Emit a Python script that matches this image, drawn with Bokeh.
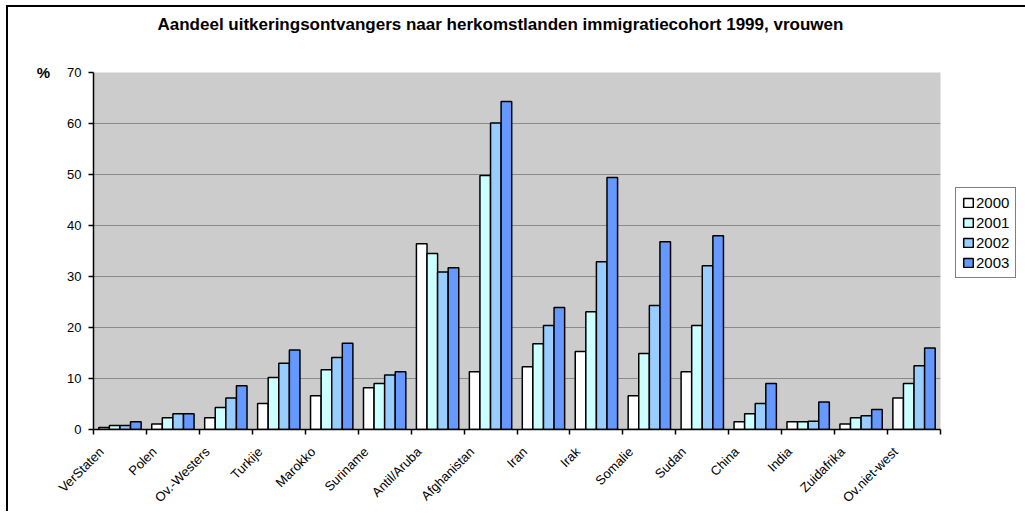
import numpy as np
from bokeh.plotting import figure
from bokeh.layouts import column
from bokeh.models import (ColumnDataSource, FixedTicker, Range1d, Legend,
                          LegendItem, Title)
from bokeh.transform import dodge
from bokeh.embed import file_html
from bokeh.resources import INLINE

# ---------------- data ----------------
title_text = "Aandeel uitkeringsontvangers naar herkomstlanden immigratiecohort 1999, vrouwen"
categories = ["VerStaten", "Polen", "Ov.-Westers", "Turkije", "Marokko", "Suriname",
              "Antil/Aruba", "Afghanistan", "Iran", "Irak", "Somalie", "Sudan",
              "China", "India", "Zuidafrika", "Ov.niet-west"]
years = ["2000", "2001", "2002", "2003"]
v2000 = [0.4, 1.1, 2.3, 5.1, 6.6, 8.2, 36.4, 11.3, 12.3, 15.3, 6.6, 11.3, 1.5, 1.5, 1.1, 6.2]
v2001 = [0.8, 2.3, 4.3, 10.2, 11.7, 9.0, 34.5, 49.8, 16.8, 23.1, 14.9, 20.4, 3.1, 1.5, 2.3, 9.0]
v2002 = [0.8, 3.1, 6.2, 13.0, 14.1, 10.7, 30.9, 60.1, 20.4, 32.9, 24.3, 32.1, 5.1, 1.6, 2.7, 12.5]
v2003 = [1.5, 3.1, 8.6, 15.6, 16.9, 11.3, 31.7, 64.3, 23.9, 49.4, 36.8, 38.0, 9.0, 5.4, 3.9, 16.0]
y_ticks = [0, 10, 20, 30, 40, 50, 60, 70]
y_unit = "%"

# ---------------- styles ----------------
colors = ["#FFFFFF", "#CCFFFF", "#99CCFF", "#6699FF"]
offsets = [-0.3, -0.1, 0.1, 0.3]
label_shift = 0.15
FONT = "Liberation Sans"

n = len(categories)
src = ColumnDataSource(dict(x=[i + 0.5 for i in range(n)],
                            y2000=v2000, y2001=v2001, y2002=v2002, y2003=v2003))

p = figure(frame_width=847, frame_height=357,
           x_range=Range1d(0, n), y_range=Range1d(0, 70),
           output_backend="svg", toolbar_location=None,
           min_border_left=85, min_border_right=83,
           min_border_top=65, min_border_bottom=84)

p.background_fill_color = "#CCCCCC"
p.border_fill_color = "white"
p.outline_line_color = None

# main title (outermost) and a spacer title between it and the frame
p.title.text = title_text
p.title.text_font = FONT
p.title.text_font_size = "17px"
p.title.text_font_style = "bold"
p.title.text_color = "black"
p.title.align = "left"
p.title.offset = 64
p.title.standoff = 0

spacer = Title(text=" ", text_font=FONT, text_font_size="10px", standoff=26)
p.add_layout(spacer, "above")

# grid
p.xgrid.visible = False
p.ygrid.grid_line_color = "#8A8A8A"
p.ygrid.grid_line_width = 1.2

# y axis
p.yaxis.ticker = FixedTicker(ticks=y_ticks)
p.yaxis.axis_line_color = "black"
p.yaxis.axis_line_width = 1.5
p.yaxis.major_tick_line_color = "black"
p.yaxis.major_tick_line_width = 1.5
p.yaxis.major_tick_out = 5
p.yaxis.major_tick_in = 0
p.yaxis.minor_tick_line_color = None
p.yaxis.major_label_text_font = FONT
p.yaxis.major_label_text_font_size = "13px"
p.yaxis.major_label_text_color = "black"
p.yaxis.major_label_standoff = 7
p.yaxis.axis_label = y_unit
p.yaxis.axis_label_orientation = "horizontal"
p.yaxis.axis_label_align = "end"
p.yaxis.axis_label_text_font = FONT
p.yaxis.axis_label_text_font_size = "15px"
p.yaxis.axis_label_text_font_style = "bold"
p.yaxis.axis_label_text_color = "black"
p.yaxis.axis_label_standoff = 14

# x axis: boundary ticks as minor ticks, labels on major ticks
label_ticks = [i + label_shift for i in range(n)]
p.xaxis.ticker = FixedTicker(ticks=label_ticks, minor_ticks=list(range(n + 1)))
p.xaxis.major_label_overrides = {t: c for t, c in zip(label_ticks, categories)}
p.xaxis.major_label_orientation = np.pi / 4
p.xaxis.major_tick_line_color = None
p.xaxis.major_tick_out = 0
p.xaxis.major_tick_in = 0
p.xaxis.minor_tick_line_color = "black"
p.xaxis.minor_tick_line_width = 1.5
p.xaxis.minor_tick_out = 5
p.xaxis.minor_tick_in = 0
p.xaxis.axis_line_color = "black"
p.xaxis.axis_line_width = 1.5
p.xaxis.major_label_text_font = FONT
p.xaxis.major_label_text_font_size = "13px"
p.xaxis.major_label_text_color = "black"
p.xaxis.major_label_standoff = 15

# bars
renderers = []
for yr, col, off in zip(years, colors, offsets):
    r = p.vbar(x=dodge("x", off, range=p.x_range), top="y" + yr, width=0.2,
               source=src, fill_color=col, line_color="black", line_width=1.5)
    renderers.append(r)

legend = Legend(items=[LegendItem(label=yr, renderers=[r]) for yr, r in zip(years, renderers)],
                location=(15, 151))
legend.border_line_color = "black"
legend.border_line_width = 1.2
legend.background_fill_color = "white"
legend.background_fill_alpha = 1
legend.padding = 6
legend.spacing = 3
legend.margin = 0
legend.glyph_width = 12
legend.glyph_height = 11
legend.label_standoff = 2
legend.label_height = 16
legend.label_text_font = FONT
legend.label_text_font_size = "15px"
legend.label_text_color = "black"
p.add_layout(legend, "right")

layout = column(p, styles={"margin-left": "8px", "margin-top": "7px",
                           "box-shadow": "-2px -2px 0px 0px black"})

open("out.html", "w").write(file_html(layout, INLINE))
